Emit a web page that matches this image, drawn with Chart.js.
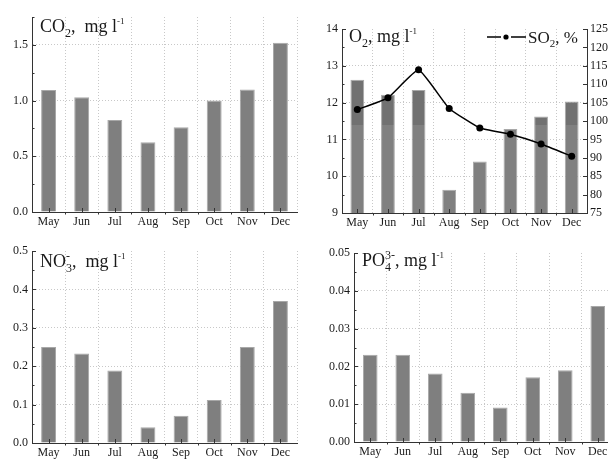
<!DOCTYPE html>
<html>
<head>
<meta charset="utf-8">
<script src="https://cdn.jsdelivr.net/npm/chart.js@4/dist/chart.umd.min.js"></script>
<style>
  html, body { margin:0; padding:0; background:#fff; }
  body { width:608px; height:459px; overflow:hidden; position:relative; }
  canvas { position:absolute; }
</style>
</head>
<body>
<canvas id="c1"></canvas>
<canvas id="c2"></canvas>
<canvas id="c3"></canvas>
<canvas id="c4"></canvas>
<script>
// ---------------- data ----------------
const months = ['May', 'Jun', 'Jul', 'Aug', 'Sep', 'Oct', 'Nov', 'Dec'];
const co2 = [1.095, 1.03, 0.825, 0.627, 0.76, 1.0, 1.10, 1.52];
const o2  = [12.62, 12.21, 12.34, 9.63, 10.40, 11.28, 11.62, 12.03];
const so2 = [103.1, 106.3, 113.9, 103.4, 98.1, 96.4, 93.75, 90.4];
const no3 = [0.25, 0.233, 0.189, 0.041, 0.071, 0.112, 0.25, 0.37];
const po4 = [0.0231, 0.0231, 0.0181, 0.0130, 0.0091, 0.0171, 0.019, 0.036];

const co2Ticks = [0.0, 0.5, 1.0, 1.5];
const o2Ticks  = [9, 10, 11, 12, 13, 14];
const so2Ticks = [75, 80, 85, 90, 95, 100, 105, 110, 115, 120, 125];
const no3Ticks = [0.0, 0.1, 0.2, 0.3, 0.4, 0.5];
const po4Ticks = [0.00, 0.01, 0.02, 0.03, 0.04, 0.05];

// ---------------- styles ----------------
const SERIF = '"Liberation Serif", "Times New Roman", serif';
const TICK_FONT = { family: SERIF, size: 12 };
const INK = '#1a1a1a';
const AXIS = '#333';
const GRID = '#c8c8c8';
const BAR = '#7f7f7f';
const BAR_EDGE = '#a8a8a8';

function line(ctx, x1, y1, x2, y2) {
  ctx.beginPath(); ctx.moveTo(x1, y1); ctx.lineTo(x2, y2); ctx.stroke();
}

// rich text: segments {t, size, dy} or {sup, sub, size}
function drawRich(ctx, x, y, segs) {
  ctx.save();
  ctx.fillStyle = INK;
  ctx.textBaseline = 'alphabetic';
  ctx.textAlign = 'left';
  let cx = x;
  segs.forEach(s => {
    if (s.sup !== undefined || s.sub !== undefined) {
      ctx.font = s.size + 'px ' + SERIF;
      let w = 0;
      if (s.sup) { ctx.fillText(s.sup, cx, y + s.supDy); w = Math.max(w, ctx.measureText(s.sup).width); }
      if (s.sub) { ctx.fillText(s.sub, cx, y + s.subDy); w = Math.max(w, ctx.measureText(s.sub).width); }
      cx += w;
    } else {
      ctx.font = s.size + 'px ' + SERIF;
      ctx.fillText(s.t, cx, y + (s.dy || 0));
      cx += ctx.measureText(s.t).width;
    }
  });
  ctx.restore();
}

const decor = {
  id: 'decor',
  afterDraw(chart, args, opts) {
    const p = opts.panel;
    const ctx = chart.ctx, a = chart.chartArea;
    ctx.save();
    ctx.strokeStyle = AXIS; ctx.lineWidth = 1;
    // left axis ticks (inward)
    const ys = chart.scales.y;
    p.yTicks.forEach((v, i) => {
      const y = Math.round(ys.getPixelForValue(v)) + 0.5;
      line(ctx, a.left, y, a.left + 4, y);
      const nxt = i < p.yTicks.length - 1 ? p.yTicks[i + 1] : null;
      const step = p.yTicks[1] - p.yTicks[0];
      const mid = nxt !== null ? (v + nxt) / 2 : v + step / 2;
      if (mid <= p.yMax + 1e-9) {
        const ym = Math.round(ys.getPixelForValue(mid)) + 0.5;
        line(ctx, a.left, ym, a.left + 2.5, ym);
      }
    });
    // right axis ticks
    if (chart.scales.y2) {
      const y2 = chart.scales.y2;
      p.y2Ticks.forEach(v => {
        const y = Math.round(y2.getPixelForValue(v)) + 0.5;
        line(ctx, a.right, y, a.right - 4, y);
      });
    }
    // x axis ticks
    const xs = chart.scales.x;
    const n = months.length;
    for (let i = 0; i < n; i++) {
      const px = Math.round(xs.getPixelForValue(i)) + 0.5;
      line(ctx, px, a.bottom, px, a.bottom - 4);
      if (i < n - 1) {
        const pb = Math.round((xs.getPixelForValue(i) + xs.getPixelForValue(i + 1)) / 2) + 0.5;
        line(ctx, pb, a.bottom, pb, a.bottom + 2.5);
      }
    }
    ctx.restore();
    // title
    drawRich(ctx, p.title.x, p.title.y, p.title.segs);
    // legend
    if (p.legend) {
      const L = p.legend;
      ctx.save();
      ctx.strokeStyle = '#000'; ctx.fillStyle = '#000'; ctx.lineWidth = 1.5;
      line(ctx, L.x, L.y, L.x + 14, L.y);
      line(ctx, L.x + 24, L.y, L.x + 39, L.y);
      ctx.beginPath(); ctx.arc(L.x + 19, L.y, 2.6, 0, Math.PI * 2); ctx.fill();
      ctx.restore();
      drawRich(ctx, L.x + 41, L.y + 5.5, L.segs);
    }
  }
};

function yScale(p, ticks, min, max, dec, pos, width, gridOn) {
  return {
    type: 'linear', position: pos, min: min, max: max,
    grid: {
      display: gridOn, drawTicks: false, lineWidth: 1,
      color: c => (c.tick && (Math.abs(c.tick.value - max) < 1e-9 || Math.abs(c.tick.value - min) < 1e-9)) ? 'rgba(0,0,0,0)' : GRID
    },
    border: { display: true, color: AXIS, width: 1, dash: [1, 2] },
    ticks: {
      font: TICK_FONT, color: INK, padding: 4,
      callback: v => Number(v).toFixed(dec)
    },
    afterBuildTicks: s => { s.ticks = ticks.map(v => ({ value: v })); },
    afterFit: s => { s.width = width; }
  };
}

function makePanel(p) {
  const cv = document.getElementById(p.id);
  cv.width = p.w; cv.height = p.h;
  cv.style.left = p.x + 'px'; cv.style.top = p.y + 'px';
  cv.style.width = p.w + 'px'; cv.style.height = p.h + 'px';
  const scales = {
    x: {
      type: 'category', offset: true,
      grid: { display: true, offset: true, drawTicks: false, color: GRID, lineWidth: 1 },
      border: { display: true, color: AXIS, width: 1, dash: [1, 2] },
      ticks: { font: TICK_FONT, color: INK, padding: 3, maxRotation: 0, autoSkip: false },
      afterFit: s => { s.height = p.h - p.area.b; }
    },
    y: yScale(p, p.yTicks, p.yMin, p.yMax, p.dec, 'left', p.area.l, true)
  };
  if (p.y2Ticks) {
    scales.y2 = yScale(p, p.y2Ticks, p.y2Min, p.y2Max, 0, 'right', p.w - p.area.r, false);
    scales.y2.ticks.padding = 3;
  }
  return new Chart(cv, {
    data: { labels: months, datasets: p.datasets },
    options: {
      responsive: false, animation: false, devicePixelRatio: 1,
      layout: { padding: { top: p.area.t, left: 0, bottom: 0, right: p.y2Ticks ? 0 : p.w - p.area.r } },
      plugins: { legend: { display: false }, tooltip: { enabled: false }, decor: { panel: p } },
      scales: scales
    },
    plugins: [decor]
  });
}

function barSet(data, bg) {
  return {
    type: 'bar', data: data, yAxisID: 'y', order: 2,
    backgroundColor: bg || BAR, borderColor: BAR_EDGE, borderWidth: 1,
    barPercentage: 0.45, categoryPercentage: 1.0
  };
}

// O2 bars: slightly darker tone above a band level (as in the reference image)
const O2_BAND = 11.38;
function o2Fill(c) {
  const ch = c.chart, a = ch.chartArea, s = ch.scales.y;
  if (!a || !s) return BAR;
  const yb = s.getPixelForValue(O2_BAND);
  const f = Math.min(1, Math.max(0, (yb - a.top) / (a.bottom - a.top)));
  const g = ch.ctx.createLinearGradient(0, a.top, 0, a.bottom);
  g.addColorStop(0, '#717171'); g.addColorStop(f, '#717171');
  g.addColorStop(f, '#808080'); g.addColorStop(1, '#808080');
  return g;
}

// Panel 1: CO2
makePanel({
  id: 'c1', x: 0, y: 0, w: 304, h: 230,
  area: { l: 32, r: 297, t: 17, b: 212 },
  yTicks: co2Ticks, yMin: 0, yMax: 1.75, dec: 1,
  datasets: [barSet(co2)],
  title: { x: 40, y: 32, segs: [
    { t: 'CO', size: 18 }, { t: '2', size: 12, dy: 5 },
    { t: ',  mg l', size: 18 }, { t: '-1', size: 9, dy: -8 }
  ] }
});

// Panel 2: O2 + SO2
makePanel({
  id: 'c2', x: 304, y: 0, w: 320, h: 230,
  area: { l: 38, r: 283, t: 29, b: 213 },
  yTicks: o2Ticks, yMin: 9, yMax: 14, dec: 0,
  y2Ticks: so2Ticks, y2Min: 75, y2Max: 125,
  datasets: [
    {
      type: 'line', data: so2, yAxisID: 'y2', order: 1,
      borderColor: '#000', borderWidth: 1.5, tension: 0.12,
      pointRadius: 3.5, pointBackgroundColor: '#000', pointBorderColor: '#000', pointBorderWidth: 0
    },
    barSet(o2, o2Fill)
  ],
  title: { x: 45, y: 42, segs: [
    { t: 'O', size: 18 }, { t: '2', size: 12, dy: 5 },
    { t: ', mg l', size: 18 }, { t: '-1', size: 9, dy: -8 }
  ] },
  legend: { x: 183, y: 37, segs: [
    { t: 'SO', size: 17 }, { t: '2', size: 11, dy: 4 }, { t: ', %', size: 17 }
  ] }
});

// Panel 3: NO3
makePanel({
  id: 'c3', x: 0, y: 230, w: 304, h: 229,
  area: { l: 32, r: 297, t: 21, b: 213 },
  yTicks: no3Ticks, yMin: 0, yMax: 0.5, dec: 1,
  datasets: [barSet(no3)],
  title: { x: 40, y: 37, segs: [
    { t: 'NO', size: 18 }, { sup: '-', sub: '3', size: 12, supDy: -7, subDy: 5 },
    { t: ',  mg l', size: 18 }, { t: '-1', size: 9, dy: -8 }
  ] }
});

// Panel 4: PO4
makePanel({
  id: 'c4', x: 304, y: 230, w: 320, h: 229,
  area: { l: 50, r: 310, t: 23, b: 212 },
  yTicks: po4Ticks, yMin: 0, yMax: 0.05, dec: 2,
  datasets: [barSet(po4)],
  title: { x: 58, y: 36, segs: [
    { t: 'PO', size: 18 }, { sup: '3-', sub: '4', size: 12, supDy: -7, subDy: 5 },
    { t: ', mg l', size: 18 }, { t: '-1', size: 9, dy: -8 }
  ] }
});
</script>
</body>
</html>
